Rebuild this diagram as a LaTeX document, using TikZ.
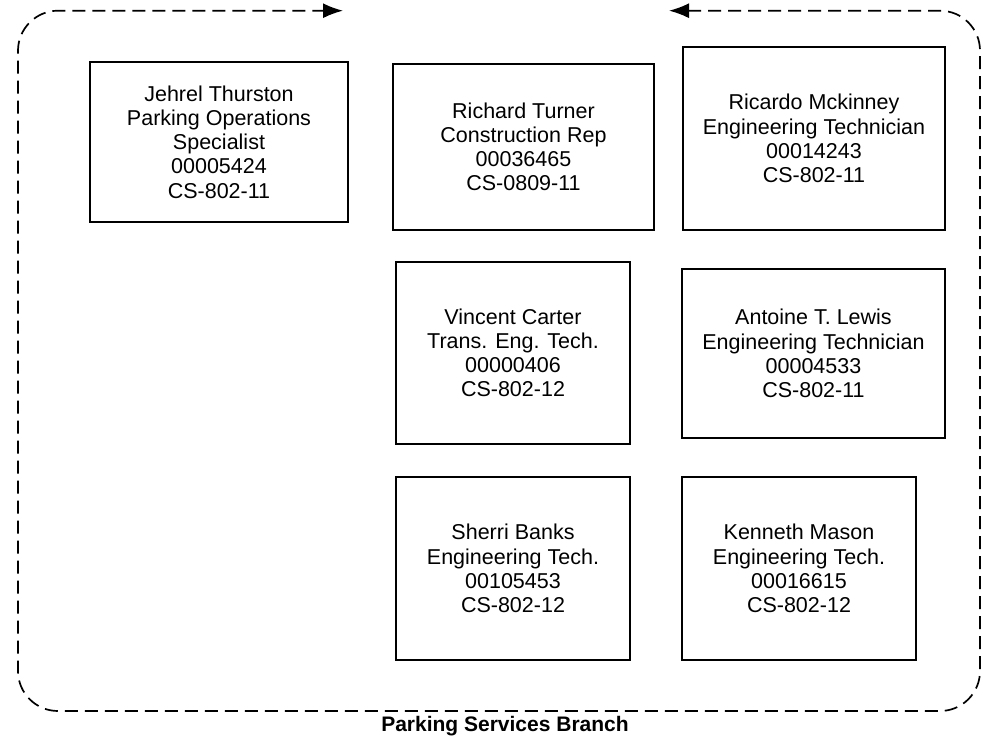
\documentclass[tikz,border=0pt]{standalone}
\usepackage{fontspec}
\setmainfont{Liberation Sans}
\usetikzlibrary{arrows.meta}
\begin{document}
\begin{tikzpicture}[x=1pt,y=-1pt,
  emp/.style={draw, line width=1.7pt, align=center, inner sep=0pt,
    font=\fontsize{21.5}{24.2}\selectfont},
  border/.style={line width=1.7pt, dash pattern=on 13pt off 7pt,
    rounded corners=40pt, {Latex[length=20pt,width=15pt]}-{Latex[length=20pt,width=15pt]}},
  lbl/.style={font=\bfseries\fontsize{21}{24}\selectfont}]
\useasboundingbox (0,0) rectangle (983,736);

\node[emp, minimum width=258, minimum height=160] (jehrel) at (219,142)
  {Jehrel Thurston\\Parking Operations\\Specialist\\00005424\\CS-802-11};
\node[emp, minimum width=261, minimum height=166] (richard) at (523.5,147)
  {Richard Turner\\Construction Rep\\00036465\\CS-0809-11};
\node[emp, minimum width=262, minimum height=183] (ricardo) at (814,138.5)
  {Ricardo Mckinney\\Engineering Technician\\00014243\\CS-802-11};
\node[emp, minimum width=234, minimum height=182] (vincent) at (513,353)
  {Vincent Carter\\Trans. Eng. Tech.\\00000406\\CS-802-12};
\node[emp, minimum width=263, minimum height=169] (antoine) at (813.5,353.5)
  {Antoine T. Lewis\\Engineering Technician\\00004533\\CS-802-11};
\node[emp, minimum width=234, minimum height=183] (sherri) at (513,568.5)
  {Sherri Banks\\Engineering Tech.\\00105453\\CS-802-12};
\node[emp, minimum width=234, minimum height=183] (kenneth) at (799,568.5)
  {Kenneth Mason\\Engineering Tech.\\00016615\\CS-802-12};

\coordinate (rtip) at (669,10.7);
\coordinate (ltip) at (343,10.7);
\coordinate (tr) at (980,10.7);
\coordinate (br) at (980,711);
\coordinate (bl) at (18,711);
\coordinate (tl) at (18,10.7);
\draw[border] (rtip) -- (tr) -- (br) -- (bl) -- (tl) -- (ltip);

\node[lbl] (branch) at (505,726) {Parking Services Branch};
\end{tikzpicture}
\end{document}
